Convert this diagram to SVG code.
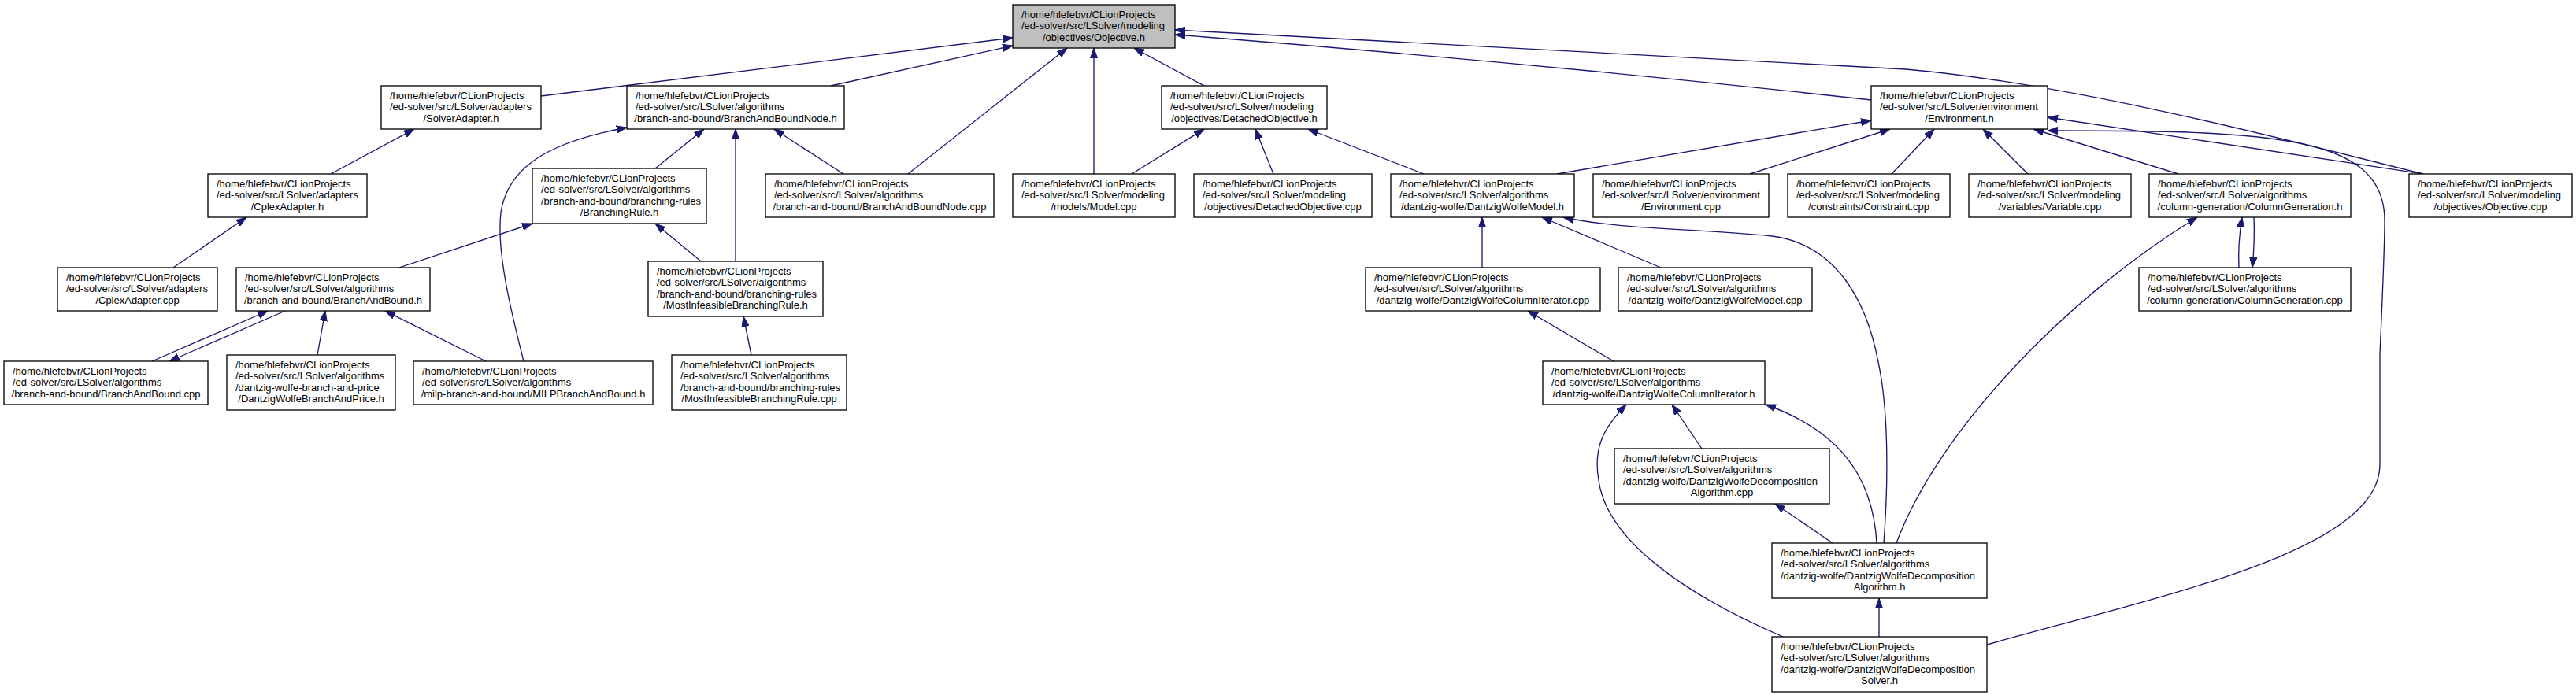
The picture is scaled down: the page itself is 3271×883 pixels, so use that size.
<svg xmlns="http://www.w3.org/2000/svg" width="3271" height="883" viewBox="0 0 3271 883">
<style>
.node rect{fill:#ffffff;stroke:#000000;stroke-width:1.33}
.root rect{fill:#bfbfbf}
text{font-family:"Liberation Sans",Arial,Helvetica,sans-serif;font-size:13px;fill:#000000}
.c{text-anchor:middle}
.edge{fill:none;stroke:#191970;stroke-width:1.33;marker-end:url(#arr)}
</style>
<defs>
<marker id="arr" markerUnits="userSpaceOnUse" markerWidth="14" markerHeight="10" viewBox="0 0 14 10" refX="13" refY="5" orient="auto">
<path d="M0,0.4 L13,5 L0,9.6 Z" fill="#191970" stroke="#191970" stroke-width="1"/>
</marker>
</defs>
<rect x="0" y="0" width="3271" height="883" fill="#ffffff"/>
<g id="edges">
<path class="edge" d="M687,122 L1286,48"/>
<path class="edge" d="M1055,109 L1286,58"/>
<path class="edge" d="M1153,221 L1355,61"/>
<path class="edge" d="M1389,221 L1389,61"/>
<path class="edge" d="M1529,109 L1440,61"/>
<path class="edge" d="M2376,127 Q1950,80 1492,44"/>
<path class="edge" d="M3077,221 C2950,190 2650,108 2420,88 L1492,38"/>
<path class="edge" d="M1437,221 L1529,164"/>
<path class="edge" d="M1617,221 L1594,164"/>
<path class="edge" d="M1808,221 L1661,164"/>
<path class="edge" d="M1977,221 L2376,153"/>
<path class="edge" d="M2222,221 L2400,164"/>
<path class="edge" d="M2402,221 L2456,164"/>
<path class="edge" d="M2575,221 L2518,164"/>
<path class="edge" d="M2766,221 L2582,164"/>
<path class="edge" d="M3077,221 L2600,149"/>
<path class="edge" d="M2523,819 C2750,755 3022,700 3022,590 L3022,450 C3025,380 3028,320 3028,280 C3028,170 2880,166 2600,166"/>
<path class="edge" d="M832,214 L894,164"/>
<path class="edge" d="M934,332 L934,164"/>
<path class="edge" d="M1071,221 L983,164"/>
<path class="edge" d="M665,459 C650,400 630,320 636,270 C645,210 700,180 796,162"/>
<path class="edge" d="M420,221 L526,164"/>
<path class="edge" d="M220,340 L313,276"/>
<path class="edge" d="M507,340 L676,284"/>
<path class="edge" d="M890,332 L832,284"/>
<path class="edge" d="M954,451 L944,402"/>
<path class="edge" d="M193,459 L340,395"/>
<path class="edge" d="M362,395 L215,459"/>
<path class="edge" d="M403,451 L413,395"/>
<path class="edge" d="M617,459 L489,395"/>
<path class="edge" d="M1882,340 L1882,276"/>
<path class="edge" d="M2109,340 L1958,276"/>
<path class="edge" d="M2392,690 C2398,610 2398,520 2385,460 C2370,380 2330,310 2250,300 C2150,290 2060,292 1985,276"/>
<path class="edge" d="M2049,459 L1940,395"/>
<path class="edge" d="M2161,570 L2123,514"/>
<path class="edge" d="M2383,690 C2378,600 2330,545 2242,514"/>
<path class="edge" d="M2264,809 C2150,760 2040,690 2030,610 C2022,565 2040,540 2065,514"/>
<path class="edge" d="M2327,690 L2254,640"/>
<path class="edge" d="M2386,809 L2386,760"/>
<path class="edge" d="M2408,690 C2460,550 2620,380 2790,276"/>
<path class="edge" d="M2843,340 C2842,320 2843,300 2847,276"/>
<path class="edge" d="M2862,276 C2863,300 2862,320 2860,340"/>
</g>
<g id="n_objective_h" class="node root"><rect x="1286" y="6" width="206" height="55"/>
<text x="1297" y="22.5">/home/hlefebvr/CLionProjects</text><text x="1297" y="37">/ed-solver/src/LSolver/modeling</text><text class="c" x="1389" y="51.5">/objectives/Objective.h</text></g>
<g id="n_solveradapter_h" class="node"><rect x="484" y="109" width="203" height="55"/>
<text x="495" y="125.5">/home/hlefebvr/CLionProjects</text><text x="495" y="140">/ed-solver/src/LSolver/adapters</text><text class="c" x="585.5" y="154.5">/SolverAdapter.h</text></g>
<g id="n_bbnode_h" class="node"><rect x="796" y="109" width="276" height="55"/>
<text x="807" y="125.5">/home/hlefebvr/CLionProjects</text><text x="807" y="140">/ed-solver/src/LSolver/algorithms</text><text class="c" x="934" y="154.5">/branch-and-bound/BranchAndBoundNode.h</text></g>
<g id="n_detachedobjective_h" class="node"><rect x="1475" y="109" width="210" height="55"/>
<text x="1486" y="125.5">/home/hlefebvr/CLionProjects</text><text x="1486" y="140">/ed-solver/src/LSolver/modeling</text><text class="c" x="1580" y="154.5">/objectives/DetachedObjective.h</text></g>
<g id="n_environment_h" class="node"><rect x="2376" y="109" width="224" height="55"/>
<text x="2387" y="125.5">/home/hlefebvr/CLionProjects</text><text x="2387" y="140">/ed-solver/src/LSolver/environment</text><text class="c" x="2488" y="154.5">/Environment.h</text></g>
<g id="n_cplexadapter_h" class="node"><rect x="264" y="221" width="202" height="55"/>
<text x="275" y="237.5">/home/hlefebvr/CLionProjects</text><text x="275" y="252">/ed-solver/src/LSolver/adapters</text><text class="c" x="365" y="266.5">/CplexAdapter.h</text></g>
<g id="n_branchingrule_h" class="node"><rect x="676" y="214" width="221" height="70"/>
<text x="687" y="230.5">/home/hlefebvr/CLionProjects</text><text x="687" y="245">/ed-solver/src/LSolver/algorithms</text><text x="687" y="259.5">/branch-and-bound/branching-rules</text><text class="c" x="786.5" y="274">/BranchingRule.h</text></g>
<g id="n_bbnode_cpp" class="node"><rect x="972" y="221" width="290" height="55"/>
<text x="983" y="237.5">/home/hlefebvr/CLionProjects</text><text x="983" y="252">/ed-solver/src/LSolver/algorithms</text><text class="c" x="1117" y="266.5">/branch-and-bound/BranchAndBoundNode.cpp</text></g>
<g id="n_model_cpp" class="node"><rect x="1286" y="221" width="206" height="55"/>
<text x="1297" y="237.5">/home/hlefebvr/CLionProjects</text><text x="1297" y="252">/ed-solver/src/LSolver/modeling</text><text class="c" x="1389" y="266.5">/models/Model.cpp</text></g>
<g id="n_detachedobjective_cpp" class="node"><rect x="1516" y="221" width="226" height="55"/>
<text x="1527" y="237.5">/home/hlefebvr/CLionProjects</text><text x="1527" y="252">/ed-solver/src/LSolver/modeling</text><text class="c" x="1629" y="266.5">/objectives/DetachedObjective.cpp</text></g>
<g id="n_dwmodel_h" class="node"><rect x="1766" y="221" width="233" height="55"/>
<text x="1777" y="237.5">/home/hlefebvr/CLionProjects</text><text x="1777" y="252">/ed-solver/src/LSolver/algorithms</text><text class="c" x="1882.5" y="266.5">/dantzig-wolfe/DantzigWolfeModel.h</text></g>
<g id="n_environment_cpp" class="node"><rect x="2023" y="221" width="223" height="55"/>
<text x="2034" y="237.5">/home/hlefebvr/CLionProjects</text><text x="2034" y="252">/ed-solver/src/LSolver/environment</text><text class="c" x="2134.5" y="266.5">/Environment.cpp</text></g>
<g id="n_constraint_cpp" class="node"><rect x="2270" y="221" width="206" height="55"/>
<text x="2281" y="237.5">/home/hlefebvr/CLionProjects</text><text x="2281" y="252">/ed-solver/src/LSolver/modeling</text><text class="c" x="2373" y="266.5">/constraints/Constraint.cpp</text></g>
<g id="n_variable_cpp" class="node"><rect x="2500" y="221" width="206" height="55"/>
<text x="2511" y="237.5">/home/hlefebvr/CLionProjects</text><text x="2511" y="252">/ed-solver/src/LSolver/modeling</text><text class="c" x="2603" y="266.5">/variables/Variable.cpp</text></g>
<g id="n_columngeneration_h" class="node"><rect x="2729" y="221" width="256" height="55"/>
<text x="2740" y="237.5">/home/hlefebvr/CLionProjects</text><text x="2740" y="252">/ed-solver/src/LSolver/algorithms</text><text class="c" x="2857" y="266.5">/column-generation/ColumnGeneration.h</text></g>
<g id="n_objective_cpp" class="node"><rect x="3059" y="221" width="207" height="55"/>
<text x="3070" y="237.5">/home/hlefebvr/CLionProjects</text><text x="3070" y="252">/ed-solver/src/LSolver/modeling</text><text class="c" x="3162.5" y="266.5">/objectives/Objective.cpp</text></g>
<g id="n_cplexadapter_cpp" class="node"><rect x="73" y="340" width="203" height="55"/>
<text x="84" y="356.5">/home/hlefebvr/CLionProjects</text><text x="84" y="371">/ed-solver/src/LSolver/adapters</text><text class="c" x="174.5" y="385.5">/CplexAdapter.cpp</text></g>
<g id="n_branchandbound_h" class="node"><rect x="300" y="340" width="246" height="55"/>
<text x="311" y="356.5">/home/hlefebvr/CLionProjects</text><text x="311" y="371">/ed-solver/src/LSolver/algorithms</text><text class="c" x="423" y="385.5">/branch-and-bound/BranchAndBound.h</text></g>
<g id="n_mostinfeasible_h" class="node"><rect x="823" y="332" width="222" height="70"/>
<text x="834" y="348.5">/home/hlefebvr/CLionProjects</text><text x="834" y="363">/ed-solver/src/LSolver/algorithms</text><text x="834" y="377.5">/branch-and-bound/branching-rules</text><text class="c" x="934" y="392">/MostInfeasibleBranchingRule.h</text></g>
<g id="n_dwcolumniterator_cpp" class="node"><rect x="1734" y="340" width="298" height="55"/>
<text x="1745" y="356.5">/home/hlefebvr/CLionProjects</text><text x="1745" y="371">/ed-solver/src/LSolver/algorithms</text><text class="c" x="1883" y="385.5">/dantzig-wolfe/DantzigWolfeColumnIterator.cpp</text></g>
<g id="n_dwmodel_cpp" class="node"><rect x="2055" y="340" width="246" height="55"/>
<text x="2066" y="356.5">/home/hlefebvr/CLionProjects</text><text x="2066" y="371">/ed-solver/src/LSolver/algorithms</text><text class="c" x="2178" y="385.5">/dantzig-wolfe/DantzigWolfeModel.cpp</text></g>
<g id="n_columngeneration_cpp" class="node"><rect x="2716" y="340" width="269" height="55"/>
<text x="2727" y="356.5">/home/hlefebvr/CLionProjects</text><text x="2727" y="371">/ed-solver/src/LSolver/algorithms</text><text class="c" x="2850.5" y="385.5">/column-generation/ColumnGeneration.cpp</text></g>
<g id="n_branchandbound_cpp" class="node"><rect x="5" y="459" width="259" height="55"/>
<text x="16" y="475.5">/home/hlefebvr/CLionProjects</text><text x="16" y="490">/ed-solver/src/LSolver/algorithms</text><text class="c" x="134.5" y="504.5">/branch-and-bound/BranchAndBound.cpp</text></g>
<g id="n_dwbranchandprice_h" class="node"><rect x="288" y="451" width="214" height="70"/>
<text x="299" y="467.5">/home/hlefebvr/CLionProjects</text><text x="299" y="482">/ed-solver/src/LSolver/algorithms</text><text x="299" y="496.5">/dantzig-wolfe-branch-and-price</text><text class="c" x="395" y="511">/DantzigWolfeBranchAndPrice.h</text></g>
<g id="n_milpbranchandbound_h" class="node"><rect x="525" y="459" width="304" height="55"/>
<text x="536" y="475.5">/home/hlefebvr/CLionProjects</text><text x="536" y="490">/ed-solver/src/LSolver/algorithms</text><text class="c" x="677" y="504.5">/milp-branch-and-bound/MILPBranchAndBound.h</text></g>
<g id="n_mostinfeasible_cpp" class="node"><rect x="853" y="451" width="222" height="70"/>
<text x="864" y="467.5">/home/hlefebvr/CLionProjects</text><text x="864" y="482">/ed-solver/src/LSolver/algorithms</text><text x="864" y="496.5">/branch-and-bound/branching-rules</text><text class="c" x="964" y="511">/MostInfeasibleBranchingRule.cpp</text></g>
<g id="n_dwcolumniterator_h" class="node"><rect x="1959" y="459" width="282" height="55"/>
<text x="1970" y="475.5">/home/hlefebvr/CLionProjects</text><text x="1970" y="490">/ed-solver/src/LSolver/algorithms</text><text class="c" x="2100" y="504.5">/dantzig-wolfe/DantzigWolfeColumnIterator.h</text></g>
<g id="n_dwdecompalg_cpp" class="node"><rect x="2050" y="570" width="273" height="70"/>
<text x="2061" y="586.5">/home/hlefebvr/CLionProjects</text><text x="2061" y="601">/ed-solver/src/LSolver/algorithms</text><text x="2061" y="615.5">/dantzig-wolfe/DantzigWolfeDecomposition</text><text class="c" x="2186.5" y="630">Algorithm.cpp</text></g>
<g id="n_dwdecompalg_h" class="node"><rect x="2250" y="690" width="273" height="70"/>
<text x="2261" y="706.5">/home/hlefebvr/CLionProjects</text><text x="2261" y="721">/ed-solver/src/LSolver/algorithms</text><text x="2261" y="735.5">/dantzig-wolfe/DantzigWolfeDecomposition</text><text class="c" x="2386.5" y="750">Algorithm.h</text></g>
<g id="n_dwdecompsolver_h" class="node"><rect x="2250" y="809" width="273" height="70"/>
<text x="2261" y="825.5">/home/hlefebvr/CLionProjects</text><text x="2261" y="840">/ed-solver/src/LSolver/algorithms</text><text x="2261" y="854.5">/dantzig-wolfe/DantzigWolfeDecomposition</text><text class="c" x="2386.5" y="869">Solver.h</text></g>
</svg>
